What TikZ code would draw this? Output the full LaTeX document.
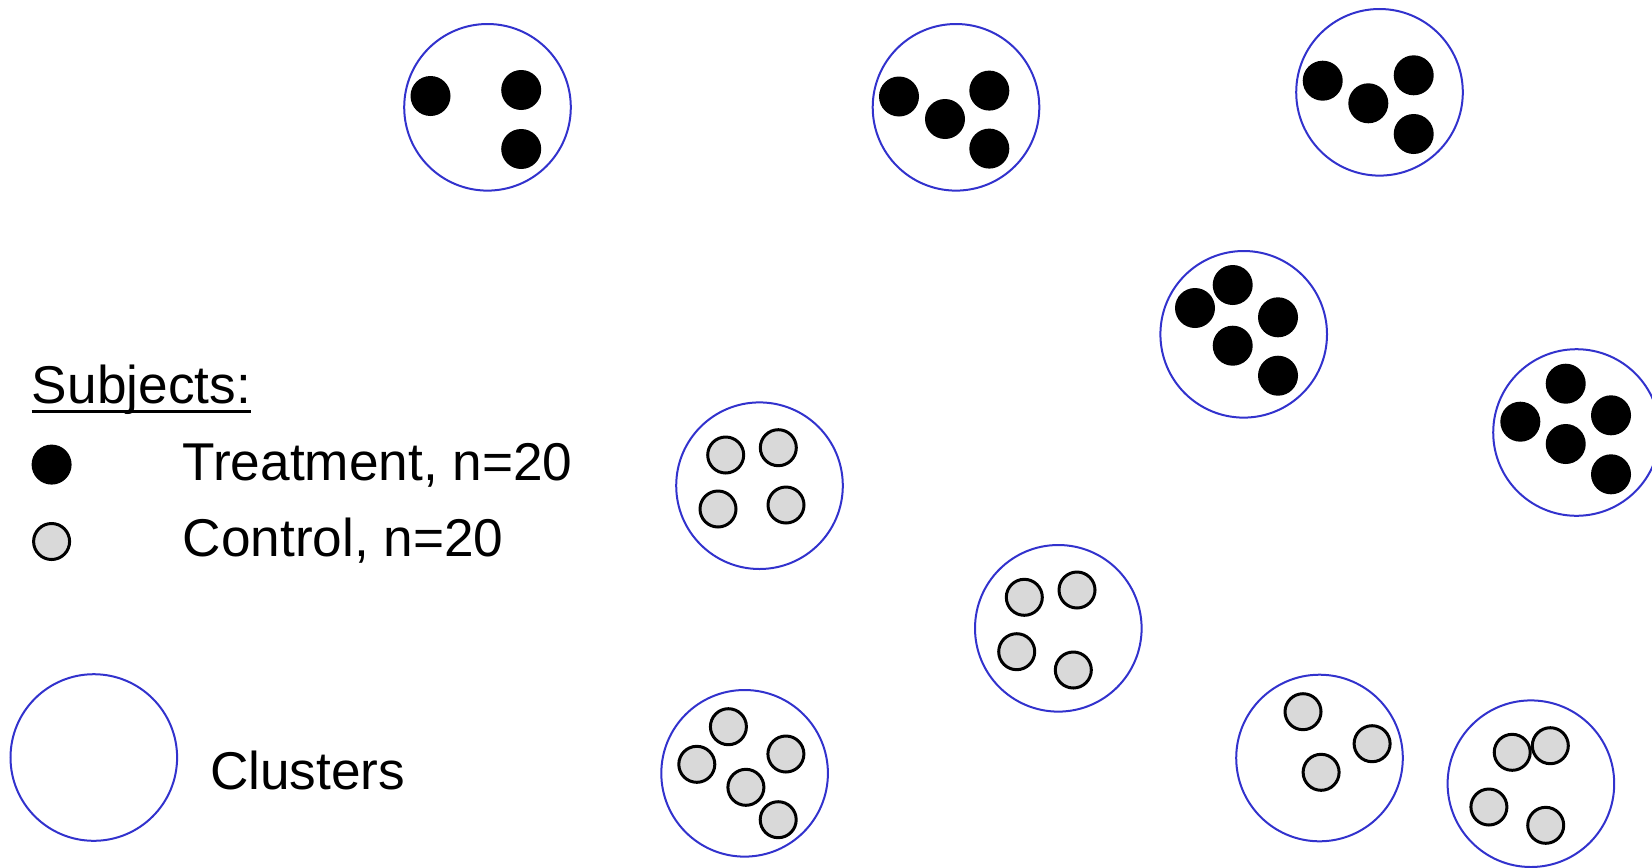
\documentclass[tikz,border=0pt]{standalone}
\usepackage{fontspec}
\setmainfont{Liberation Sans}
\definecolor{clusterblue}{RGB}{50,50,205}
\definecolor{ctrlgray}{RGB}{217,217,217}
\begin{document}
\begin{tikzpicture}[x=0.5pt,y=-0.5pt,
  cluster/.style={circle,draw=clusterblue,line width=1pt,minimum size=83.3pt,inner sep=0pt},
  treat/.style={circle,fill=black,minimum size=20pt,inner sep=0pt},
  ctrl/.style={circle,draw=black,fill=ctrlgray,line width=1.5pt,minimum size=18pt,inner sep=0pt},
  lbl/.style={anchor=base west,inner sep=0pt,font=\fontsize{26.6pt}{30pt}\selectfont}]
\path[use as bounding box] (0,0) rectangle (1652,867);
% clusters
\node[cluster] (T1) at (487.5,107.3) {};
\node[cluster] (T2) at (956,107.3) {};
\node[cluster] (T3) at (1379.5,92.3) {};
\node[cluster] (T4) at (1243.7,334.3) {};
\node[cluster] (T5) at (1576.5,432.5) {};
\node[cluster] (C1) at (759.5,485.7) {};
\node[cluster] (C2) at (1058.3,628.3) {};
\node[cluster] (C3) at (744.6,773.3) {};
\node[cluster] (C4) at (1319.5,758) {};
\node[cluster] (C5) at (1530.9,783.7) {};
% treatment subjects
\foreach \x/\y [count=\i] in {430.5/96,521.2/90,521.2/149,
  899/96.5,945/119,989.3/90.6,989.3/148.6,
  1322.7/80.7,1368.3/103.3,1413.7/75.3,1413.7/134,
  1195/308,1232.7/285,1278/317.3,1232.7/345.7,1278/375.7,
  1565.7/383.7,1520.3/421.7,1611/415.3,1565.7/444,1611/474.3}
  \node[treat] (t\i) at (\x,\y) {};
% control subjects
\foreach \x/\y [count=\i] in {725.7/455,778.3/447.7,718/509,786/505,
  1024.3/597.3,1077/590,1016.7/651.7,1073.3/670,
  728.4/726.7,696.8/764.3,785.9/754,745.9/787.3,778.2/819.7,
  1303/711.7,1372.1/743.7,1321.1/772.3,
  1512.2/752.3,1550.3/745.7,1488.9/807,1545.7/825.3}
  \node[ctrl] (c\i) at (\x,\y) {};
% legend
\node[lbl] (subj) at (31.6,403.5) {Subjects:};
\draw[line width=1.5pt] ([yshift=-3.9pt]subj.base west) -- ([yshift=-3.9pt]subj.base east);
\node[treat] (lt) at (51.6,464.6) {};
\node[lbl] (ltt) at (182.3,480.5) {Treatment, n=20};
\node[ctrl] (lc) at (51.6,541.5) {};
\node[lbl] (lct) at (182.3,556.3) {Control, n=20};
\node[cluster] (lcl) at (93.8,757.5) {};
\node[lbl] (lclt) at (209.7,789) {Clusters};
\end{tikzpicture}
\end{document}
